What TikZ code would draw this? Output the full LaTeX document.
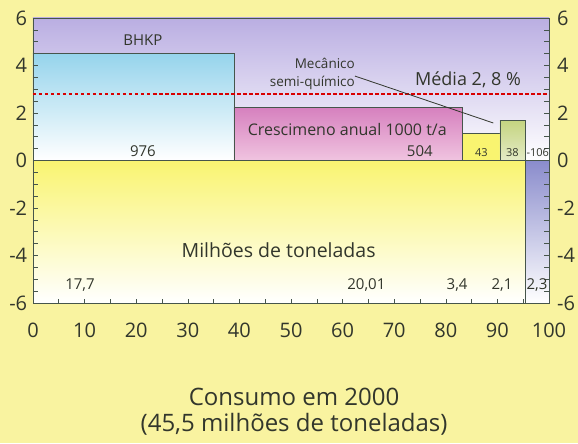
\documentclass[tikz,border=0pt]{standalone}
\usepackage{fontspec}
\setmainfont{Open Sans}
\definecolor{pagebg}{RGB}{249,243,160}
\definecolor{inktxt}{RGB}{50,54,44}
\definecolor{frameln}{RGB}{70,85,75}
\definecolor{lavtop}{RGB}{186,174,226}
\definecolor{yeltop}{RGB}{249,244,112}
\definecolor{cyantop}{RGB}{150,212,236}
\definecolor{pinktop}{RGB}{214,128,190}
\definecolor{pinkbot}{RGB}{240,196,224}
\definecolor{olivetop}{RGB}{196,212,128}
\definecolor{violettop}{RGB}{138,140,204}
\tikzset{
  barline/.style={draw=frameln, line width=0.7pt},
  ticklbl/.style={text=inktxt, font=\fontsize{20}{20}\selectfont, inner sep=0pt},
  midlbl/.style={text=inktxt, font=\fontsize{15}{15}\selectfont, inner sep=0pt},
  smalllbl/.style={text=inktxt, font=\fontsize{13.5}{13.5}\selectfont, inner sep=0pt},
  tinylbl/.style={text=inktxt, font=\fontsize{11}{11}\selectfont, inner sep=0pt}
}
\begin{document}
\begin{tikzpicture}[x=5.16pt, y=23.75pt]
    % page
    \fill[pagebg] (-6.395,6.758) rectangle (105.62,-11.895);
    \useasboundingbox (-6.395,6.758) rectangle (105.62,-11.895);

    % plot background
    \shade[top color=lavtop, bottom color=white] (0,6) rectangle (100,0);
    \shade[top color=yeltop, bottom color=white] (0,0) rectangle (100,-6);

    % bars
    \shade[top color=cyantop, bottom color=white] (0,4.5) rectangle (38.95,0);
    \draw[barline] (0,4.5) -- (38.95,4.5) -- (38.95,0);
    \shade[top color=pinktop, bottom color=pinkbot] (38.95,2.25) rectangle (83.3,0);
    \draw[barline] (38.95,0) -- (38.95,2.25) -- (83.3,2.25) -- (83.3,0);
    \fill[yeltop] (83.3,1.16) rectangle (90.5,0);
    \draw[barline] (83.3,1.16) -- (90.5,1.16);
    \shade[top color=olivetop, bottom color=olivetop!45!white] (90.5,1.7) rectangle (95.35,0);
    \draw[barline] (90.5,0) -- (90.5,1.7) -- (95.35,1.7) -- (95.35,0);
    \coordinate (oliveTL) at (89.2,1.58);
    \shade[top color=violettop, bottom color=white] (95.35,0) rectangle (100,-6);
    \draw[barline] (95.35,0) -- (95.35,-6);

    % frame, zero line, ticks
    \draw[barline] (0,0) -- (100,0);
    \draw[barline] (0,6) rectangle (100,-6);
    \foreach \t in {-6,-5.5,...,6} {
        \draw[frameln, line width=0.6pt] (0,\t) -- (1,\t);
        \draw[frameln, line width=0.6pt] (100,\t) -- (99,\t);
    }
    \foreach \t in {5,10,...,95}
        \draw[frameln, line width=0.6pt] (\t,-6) -- (\t,-5.85);

    % average line
    \draw[red!85!black, line width=1.3pt, dash pattern=on 3.5pt off 2.5pt] (0,2.8) -- (100,2.8);

    % axis labels
    \foreach \v in {-6,-4,...,6} {
        \node[ticklbl, anchor=east] (yl\v) at (-1.1,\v) {\v};
        \node[ticklbl, anchor=west] (yr\v) at (101.55,\v) {\v};
    }
    \foreach \v in {0,10,...,100}
        \node[ticklbl] (xl\v) at (\v,-7.14) {\v};

    % bar labels
    \node[midlbl] (bhkp) at (21.3,5.07) {BHKP};
    \node[midlbl] (v976) at (21.3,0.38) {976};
    \node[text=inktxt, font=\fontsize{16}{16}\selectfont, inner sep=0pt] (cresc) at (60.9,1.3) {Crescimeno anual 1000 t/a};
    \node[midlbl, anchor=east] (v504) at (77.5,0.4) {504};
    \node[tinylbl] (v43) at (86.9,0.32) {43};
    \node[tinylbl] (v38) at (92.9,0.32) {38};
    \begin{scope}
        \clip (95.35,1) rectangle (100,-0.2);
        \node[tinylbl, anchor=west] (v106) at (95.6,0.32) {-106};
    \end{scope}
    \node[smalllbl, anchor=east] (mecan) at (62.4,4.08) {Mecânico};
    \node[smalllbl, anchor=east] (semi) at (62.4,3.26) {semi-químico};
    \draw[inktxt, line width=0.8pt] (semi.north east) -- (oliveTL);
    \node[text=inktxt, font=\fontsize{18}{18}\selectfont, inner sep=0pt] (media) at (84.3,3.39) {Média 2, 8 \%};

    % lower half labels
    \node[text=inktxt, font=\fontsize{19.5}{19.5}\selectfont, inner sep=0pt] (milh) at (47.6,-3.77) {Milhões de toneladas};
    \node[midlbl] (m177) at (9.1,-5.24) {17,7};
    \node[midlbl] (m2001) at (64.6,-5.24) {20,01};
    \node[midlbl] (m34) at (82.2,-5.24) {3,4};
    \node[midlbl] (m21) at (90.9,-5.24) {2,1};
    \begin{scope}
        \clip (95.35,-4.5) rectangle (100,-6);
        \node[midlbl, anchor=west] (m23) at (95.6,-5.24) {2,3};
    \end{scope}

    % caption
    \node[text=inktxt, font=\fontsize{24}{24}\selectfont, inner sep=0pt] (cap1) at (50.6,-9.96) {Consumo em 2000};
    \node[text=inktxt, font=\fontsize{24}{24}\selectfont, inner sep=0pt] (cap2) at (50.6,-11.09) {(45,5 milhões de toneladas)};
\end{tikzpicture}
\end{document}
